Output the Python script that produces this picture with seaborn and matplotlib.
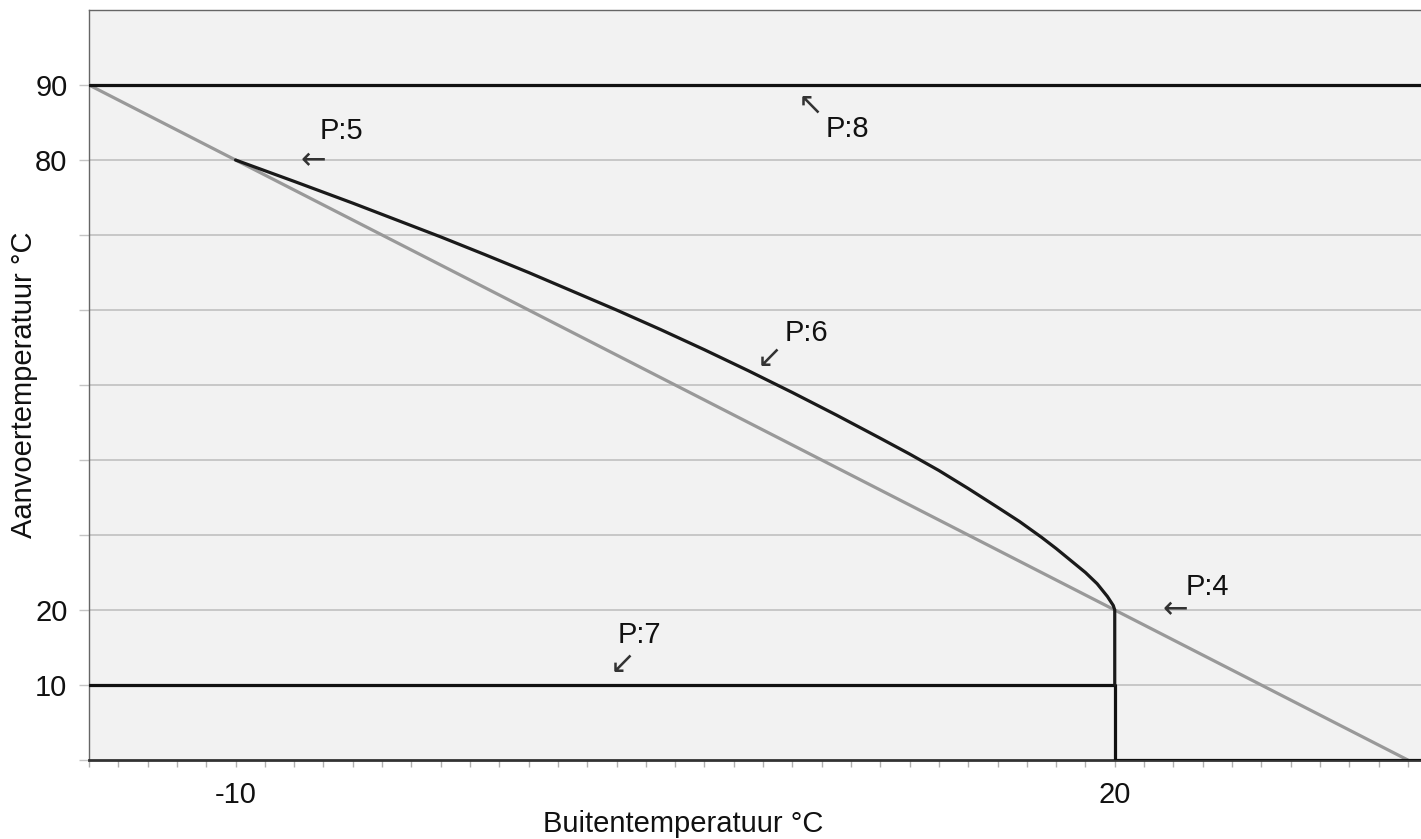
import matplotlib
matplotlib.use("Agg")
import matplotlib.pyplot as plt
import seaborn as sns
import numpy as np

# ---- data ----
# P:6 heating curve (black)
curve_x = [-10, -8, -6, -4.5, -3, -1.5, 0, 1.5, 3, 4.5, 6, 7.5, 9, 10.5, 12, 13, 14, 15,
           16, 16.75, 17.5, 18, 18.5, 19, 19.4, 19.75, 19.95, 20, 20]
curve_y = [80, 77.15, 74.25, 72.0, 69.75, 67.4, 65.0, 62.5, 60.0, 57.4, 54.7, 51.9, 49.0, 46.0,
           42.9, 40.8, 38.6, 36.2, 33.7, 31.8, 29.7, 28.2, 26.6, 25.0, 23.5, 21.8, 20.6, 20, 10]
# P:4 / P:5 straight reference line (grey)
ref_x = [-15, 30]
ref_y = [90, 0]
# P:8 maximum line
max_x = [-15, 31]
max_y = [90, 90]
# P:7 minimum line with cut-off at 20 °C
min_x = [-15, 20, 20, 31]
min_y = [10, 10, 0, 0]

labels = ["P:4", "P:5", "P:6", "P:7", "P:8"]
label_x = [22.41, -7.12, 8.75, 3.05, 10.12]
label_y = [23.1, 83.9, 56.9, 16.7, 84.1]
arrow_chars = ["\u2190", "\u2190", "\u2199", "\u2199", "\u2196"]
arrow_x = [22.07, -7.35, 8.21, 3.19, 9.61]
arrow_y = [20.0, 79.9, 53.5, 12.8, 87.3]

ytick_vals = [10, 20, 80, 90]
xtick_vals = [-10, 20]

# ---- plotting ----
sns.set_theme(style="white")
plt.rcParams["font.family"] = ["Liberation Sans", "DejaVu Sans"]

fig = plt.figure(figsize=(14.21, 8.39), dpi=100)
ax = fig.add_axes([89 / 1421, 1 - 760 / 839, 1 - 89 / 1421, 750 / 839])
ax.set_facecolor("#f2f2f2")

# gridlines
for g in range(10, 100, 10):
    ax.axhline(g, color="#c4c4c4", lw=1.3, zorder=1)

lw = 2.3
common = dict(ax=ax, sort=False, estimator=None)
sns.lineplot(x=ref_x, y=ref_y, color="#999999", lw=lw, zorder=3, **common)
sns.lineplot(x=max_x, y=max_y, color="#111111", lw=lw, zorder=4, **common)
sns.lineplot(x=min_x, y=min_y, color="#111111", lw=lw, zorder=4, **common)
sns.lineplot(x=curve_x, y=curve_y, color="#1a1a1a", lw=lw, zorder=4, **common)

for t, tx, ty in zip(labels, label_x, label_y):
    ax.text(tx, ty, t, fontsize=21, ha="left", va="center", color="#111111", zorder=5)
for a, axx, ayy in zip(arrow_chars, arrow_x, arrow_y):
    ax.text(axx, ayy, a, fontsize=22, ha="center", va="center", color="#333333",
            family=["DejaVu Sans"], zorder=5)

ax.set_xlim(-15, 30.45)
ax.set_ylim(0, 100)

# ticks
ax.set_xticks(np.arange(-15, 31, 1))
ax.set_xticklabels([str(v) if v in xtick_vals else "" for v in range(-15, 31)])
ax.set_yticks(np.arange(0, 100, 10))
ax.set_yticklabels([str(v) if v in ytick_vals else "" for v in range(0, 100, 10)])
ax.tick_params(axis="x", direction="out", length=5, width=1, color="#b0b0b0",
               labelsize=21, pad=10, bottom=True, labelcolor="#111111")
ax.tick_params(axis="y", direction="out", length=7, width=1, color="#c4c4c4",
               labelsize=21, pad=8.5, left=True, labelcolor="#111111")

for side in ["left", "top"]:
    ax.spines[side].set_visible(True)
    ax.spines[side].set_color("#666666")
    ax.spines[side].set_linewidth(1.0)
ax.spines["bottom"].set_color("#333333")
ax.spines["bottom"].set_linewidth(2.0)
ax.spines["right"].set_visible(False)

ax.set_xlabel("Buitentemperatuur °C", fontsize=21, color="#111111")
ax.set_ylabel("Aanvoertemperatuur °C", fontsize=21, color="#111111")
ax.xaxis.set_label_coords((683 - 89) / (1421 - 89), -50 / 750)
ax.yaxis.set_label_coords(-(89 - 38) / (1421 - 89), 0.5)

fig.savefig("out.png", dpi=100, facecolor="white")
